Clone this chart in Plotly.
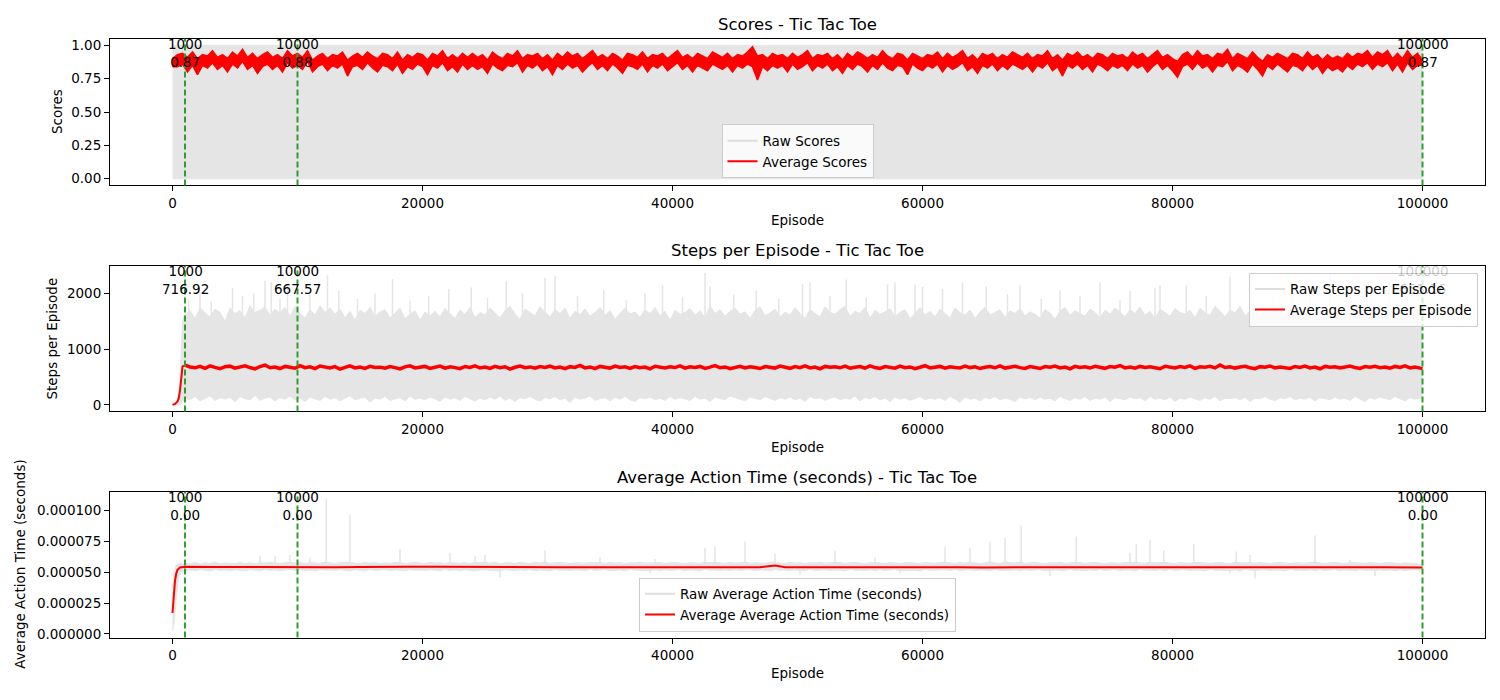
import plotly.graph_objects as go

# ---------------- data ----------------
milestone_episodes = [1000, 10000, 100000]
milestone_scores = [0.87, 0.88, 0.87]
milestone_steps = [716.92, 667.57, 651.16]
milestone_action = [0.00, 0.00, 0.00]

x_ticks = [0, 20000, 40000, 60000, 80000, 100000]

# raw scores (wins are 1, losses 0): per-5000-episode min / max
raw_score_bins = [0, 5000, 10000, 15000, 20000, 25000, 30000, 35000, 40000, 45000, 50000,
                  55000, 60000, 65000, 70000, 75000, 80000, 85000, 90000, 95000, 99999]
raw_score_max = [1, 1, 1, 1, 1, 1, 1, 1, 1, 1, 1, 1, 1, 1, 1, 1, 1, 1, 1, 1, 1]
raw_score_min = [0, 0, 0, 0, 0, 0, 0, 0, 0, 0, 0, 0, 0, 0, 0, 0, 0, 0, 0, 0, 0]

# average scores: upper / lower envelope per 400-episode bin (0 .. 100000)
avg_scores_hi = [
    0.90, 0.93, 0.94, 0.91, 0.95, 0.90, 0.93, 0.92, 0.96, 0.91,
    0.93, 0.90, 0.95, 0.92, 0.97, 0.91, 0.94, 0.90, 0.93, 0.95,
    0.91, 0.93, 0.90, 0.96, 0.92, 0.94, 0.91, 0.96, 0.89, 0.92,
    0.94, 0.90, 0.93, 0.92, 0.95, 0.89, 0.92, 0.94, 0.91, 0.95,
    0.92, 0.90, 0.94, 0.93, 0.90, 0.95, 0.89, 0.93, 0.91, 0.94,
    0.93, 0.89, 0.94, 0.92, 0.96, 0.90, 0.93, 0.90, 0.94, 0.91,
    0.94, 0.91, 0.93, 0.89, 0.95, 0.92, 0.90, 0.94, 0.92, 0.96,
    0.90, 0.93, 0.92, 0.94, 0.90, 0.93, 0.89, 0.94, 0.91, 0.95,
    0.92, 0.94, 0.90, 0.93, 0.96, 0.91, 0.93, 0.90, 0.94, 0.92,
    0.89, 0.94, 0.93, 0.91, 0.95, 0.90, 0.93, 0.92, 0.94, 0.90,
    0.93, 0.96, 0.91, 0.93, 0.90, 0.94, 0.92, 0.90, 0.95, 0.93,
    0.91, 0.94, 0.90, 0.93, 0.92, 0.95, 0.99, 0.92, 0.93, 0.90,
    0.94, 0.92, 0.93, 0.90, 0.94, 0.91, 0.93, 0.96, 0.90, 0.93,
    0.92, 0.94, 0.90, 0.93, 0.89, 0.94, 0.91, 0.95, 0.93, 0.90,
    0.93, 0.91, 0.96, 0.92, 0.90, 0.94, 0.93, 0.89, 0.94, 0.92,
    0.90, 0.93, 0.92, 0.95, 0.90, 0.94, 0.91, 0.93, 0.96, 0.90,
    0.93, 0.89, 0.94, 0.92, 0.94, 0.90, 0.93, 0.91, 0.95, 0.93,
    0.91, 0.94, 0.90, 0.93, 0.92, 0.96, 0.90, 0.93, 0.89, 0.94,
    0.92, 0.95, 0.91, 0.93, 0.90, 0.94, 0.93, 0.90, 0.94, 0.92,
    0.93, 0.90, 0.95, 0.92, 0.94, 0.90, 0.93, 0.96, 0.91, 0.93,
    0.90, 0.88, 0.93, 0.95, 0.91, 0.96, 0.92, 0.93, 0.90, 0.94,
    0.93, 0.97, 0.90, 0.94, 0.92, 0.90, 0.95, 0.91, 0.88, 0.93,
    0.91, 0.94, 0.92, 0.90, 0.94, 0.93, 0.90, 0.95, 0.91, 0.93,
    0.89, 0.93, 0.90, 0.92, 0.90, 0.94, 0.91, 0.94, 0.93, 0.96,
    0.91, 0.95, 0.93, 0.96, 0.90, 0.94, 0.90, 0.96, 0.91, 0.94,
    0.89,
]
avg_scores_lo = [
    0.84, 0.84, 0.86, 0.80, 0.85, 0.78, 0.85, 0.83, 0.87, 0.82,
    0.85, 0.80, 0.86, 0.83, 0.88, 0.82, 0.85, 0.79, 0.84, 0.86,
    0.82, 0.85, 0.80, 0.87, 0.83, 0.85, 0.82, 0.88, 0.80, 0.84,
    0.86, 0.81, 0.85, 0.83, 0.86, 0.77, 0.84, 0.85, 0.82, 0.87,
    0.83, 0.80, 0.85, 0.84, 0.81, 0.86, 0.79, 0.84, 0.82, 0.86,
    0.84, 0.78, 0.85, 0.83, 0.87, 0.81, 0.84, 0.80, 0.86, 0.82,
    0.85, 0.82, 0.84, 0.79, 0.86, 0.83, 0.81, 0.85, 0.84, 0.87,
    0.80, 0.85, 0.83, 0.86, 0.81, 0.84, 0.78, 0.85, 0.82, 0.86,
    0.83, 0.85, 0.80, 0.84, 0.87, 0.82, 0.85, 0.81, 0.86, 0.83,
    0.79, 0.85, 0.84, 0.82, 0.86, 0.80, 0.85, 0.83, 0.86, 0.81,
    0.84, 0.87, 0.82, 0.85, 0.80, 0.85, 0.83, 0.81, 0.86, 0.84,
    0.82, 0.85, 0.80, 0.85, 0.83, 0.86, 0.84, 0.74, 0.84, 0.81,
    0.85, 0.83, 0.85, 0.80, 0.86, 0.82, 0.84, 0.87, 0.81, 0.85,
    0.83, 0.86, 0.81, 0.84, 0.79, 0.85, 0.82, 0.86, 0.84, 0.80,
    0.85, 0.82, 0.87, 0.83, 0.81, 0.85, 0.84, 0.78, 0.86, 0.83,
    0.81, 0.85, 0.83, 0.86, 0.80, 0.85, 0.82, 0.84, 0.87, 0.81,
    0.84, 0.79, 0.85, 0.83, 0.86, 0.81, 0.85, 0.82, 0.86, 0.84,
    0.82, 0.85, 0.80, 0.85, 0.83, 0.87, 0.81, 0.84, 0.77, 0.85,
    0.83, 0.86, 0.82, 0.85, 0.80, 0.86, 0.84, 0.81, 0.85, 0.83,
    0.85, 0.81, 0.86, 0.83, 0.85, 0.80, 0.84, 0.87, 0.82, 0.85,
    0.81, 0.76, 0.84, 0.86, 0.82, 0.87, 0.83, 0.85, 0.80, 0.85,
    0.84, 0.88, 0.81, 0.85, 0.83, 0.80, 0.86, 0.82, 0.77, 0.85,
    0.82, 0.86, 0.83, 0.80, 0.85, 0.84, 0.81, 0.86, 0.82, 0.85,
    0.79, 0.84, 0.81, 0.83, 0.80, 0.85, 0.82, 0.86, 0.84, 0.87,
    0.82, 0.86, 0.84, 0.87, 0.81, 0.86, 0.80, 0.87, 0.82, 0.85,
    0.85,
]
avg_score_episodes = [400 * i for i in range(len(avg_scores_hi))]

# episode grid for the long series (every 400 episodes from 1000, plus the last one)
main_episodes = [1000 + 400 * i for i in range(248)] + [100000]

# steps per episode: warm-up part
steps_ramp_episodes = [0, 200, 400, 500, 600, 700, 800, 900, 1000]
avg_steps_ramp = [0, 15, 60, 120, 260, 560, 690, 700, 712]
raw_steps_ramp_episodes = [0, 200, 400, 600, 700, 800, 900]
raw_steps_ramp_max = [10, 30, 80, 400, 1000, 1450, 1600]
raw_steps_ramp_min = [0, 0, 0, 0, 20, 50, 70]

avg_steps = [
    712, 680, 665, 690, 655, 700, 672, 648, 685, 695,
    660, 678, 702, 670, 645, 688, 715, 666, 680, 652,
    690, 674, 658, 705, 668, 683, 650, 697, 676, 662,
    686, 640, 672, 699, 664, 680, 655, 692, 670, 677,
    658, 688, 669, 645, 682, 700, 663, 676, 690, 654,
    673, 695, 660, 684, 668, 650, 689, 672, 702, 661,
    679, 655, 690, 668, 684, 642, 675, 698, 666, 681,
    657, 688, 671, 694, 662, 679, 650, 686, 673, 708,
    664, 681, 652, 690, 675, 660, 697, 670, 683, 656,
    688, 668, 679, 646, 692, 674, 661, 685, 670, 699,
    659, 683, 672, 690, 655, 678, 704, 666, 681, 648,
    675, 693, 662, 684, 670, 652, 688, 676, 660, 695,
    671, 656, 686, 668, 700, 663, 679, 647, 690, 674,
    682, 665, 694, 658, 676, 688, 661, 699, 670, 654,
    687, 672, 659, 695, 668, 681, 650, 676, 703, 664,
    678, 690, 657, 684, 671, 662, 696, 669, 683, 652,
    674, 689, 666, 701, 660, 680, 693, 668, 655, 686,
    670, 652, 688, 676, 697, 663, 679, 645, 691, 672,
    684, 661, 693, 670, 656, 688, 675, 706, 664, 680,
    658, 690, 673, 685, 667, 649, 694, 677, 662, 687,
    671, 699, 656, 682, 675, 691, 663, 716, 670, 684,
    660, 678, 692, 667, 651, 686, 674, 698, 662, 680,
    673, 655, 689, 671, 695, 664, 680, 648, 690, 676,
    684, 662, 678, 697, 669, 653, 687, 675, 693, 666,
    681, 659, 690, 672, 700, 664, 678, 656,
    651,
]

# raw steps: dense body (upper / lower edge per bin) plus isolated tall spikes
raw_steps_max = [
    1620, 1700, 1540, 1750, 1650, 1580, 1720, 1660, 1500, 1740,
    1640, 1690, 1560, 1780, 1660, 1700, 1760, 1610, 1720, 1650,
    1750, 1590, 1770, 1640, 1560, 1710, 1610, 1780, 1660, 1740,
    1630, 1720, 1560, 1680, 1520, 1700, 1640, 1750, 1590, 1670,
    1710, 1560, 1650, 1740, 1540, 1630, 1690, 1520, 1670, 1600,
    1680, 1580, 1730, 1640, 1550, 1700, 1620, 1750, 1570, 1660,
    1610, 1740, 1650, 1560, 1690, 1770, 1630, 1540, 1720, 1660,
    1600, 1760, 1670, 1580, 1710, 1640, 1740, 1550, 1680, 1620,
    1720, 1590, 1660, 1750, 1610, 1690, 1540, 1650, 1740, 1630,
    1670, 1570, 1710, 1640, 1750, 1600, 1680, 1520, 1700, 1630,
    1660, 1730, 1610, 1690, 1560, 1780, 1640, 1710, 1590, 1680,
    1740, 1630, 1670, 1550, 1700, 1760, 1600, 1650, 1720, 1580,
    1670, 1610, 1750, 1640, 1550, 1710, 1650, 1580, 1760, 1660,
    1630, 1710, 1770, 1590, 1680, 1640, 1750, 1560, 1700, 1630,
    1670, 1730, 1590, 1660, 1710, 1550, 1640, 1750, 1610, 1680,
    1580, 1720, 1640, 1560, 1740, 1660, 1610, 1700, 1550, 1670,
    1750, 1620, 1660, 1710, 1570, 1690, 1640, 1730, 1600, 1670,
    1630, 1560, 1710, 1650, 1540, 1680, 1750, 1610, 1690, 1640,
    1590, 1720, 1660, 1560, 1700, 1630, 1740, 1670, 1580, 1710,
    1640, 1760, 1610, 1680, 1550, 1720, 1650, 1590, 1730, 1660,
    1630, 1700, 1560, 1740, 1660, 1610, 1770, 1690, 1580, 1710,
    1650, 1770, 1600, 1680, 1720, 1560, 1690, 1640, 1750, 1660,
    1600, 1710, 1650, 1770, 1610, 1680, 1550, 1700, 1640, 1740,
    1620, 1670, 1760, 1590, 1700, 1650, 1730, 1600, 1680, 1540,
    1650, 1720, 1600, 1670, 1560, 1700, 1620, 1480,
    1420,
]

raw_steps_min = [
    120, 90, 150, 70, 110, 160, 80, 130, 100, 140,
    60, 150, 110, 90, 170, 80, 120, 140, 70, 130,
    100, 160, 90, 120, 60, 140, 110, 80, 150, 100,
    130, 70, 120, 160, 90, 110, 140, 50, 120, 100,
    150, 80, 110, 130, 70, 160, 100, 120, 90, 140,
    110, 60, 140, 100, 130, 80, 150, 110, 70, 120,
    90, 140, 100, 160, 80, 120, 60, 130, 110, 150,
    100, 70, 130, 110, 150, 90, 120, 40, 140, 100,
    120, 160, 80, 110, 130, 70, 140, 100, 150, 90,
    60, 130, 110, 140, 90, 120, 80, 150, 100, 130,
    110, 80, 150, 100, 120, 60, 140, 110, 90, 160,
    130, 100, 70, 140, 110, 90, 150, 120, 80, 130,
    100, 140, 90, 120, 60, 150, 110, 130, 80, 120,
    140, 90, 120, 100, 160, 70, 130, 110, 150, 90,
    120, 60, 140, 100, 130, 80, 110, 150, 90, 120,
    100, 130, 80, 150, 110, 40, 140, 100, 120, 70,
    130, 110, 150, 90, 120, 100, 60, 140, 110, 130,
    90, 140, 100, 120, 70, 150, 110, 80, 130, 100,
    150, 80, 120, 100, 140, 60, 130, 110, 90, 140,
    110, 130, 70, 150, 100, 120, 90, 140, 60, 120,
    100, 140, 110, 80, 130, 100, 150, 70, 120, 110,
    130, 90, 140, 60, 120, 110, 150, 100, 80, 130,
    110, 150, 90, 120, 100, 140, 70, 130, 110, 90,
    140, 100, 120, 80, 150, 110, 60, 130, 100, 140,
    120, 90, 150, 110, 70, 130, 100, 120,
    110,
]

steps_spike_episodes = [
    1300, 2200, 3100, 4800, 5600, 6500, 7400, 7900, 8600, 9200,
    11000, 12400, 13300, 14800, 16200, 17600, 19000, 20500, 22100, 23900,
    25200, 26700, 28000, 29800, 30600, 32400, 34500, 36300, 37800, 39200,
    40800, 42600, 43000, 44900, 46700, 48500, 50400, 51000, 52600, 53900,
    55500, 57200, 57800, 59400, 60000, 61600, 63200, 65100, 66800, 67800,
    69500, 71000, 72600, 74200, 75800, 76600, 78600, 79000, 81100, 82700,
    84600, 86300, 88000, 89600, 91000, 92600, 94300, 95900, 97300, 98800,
]
steps_spike_values = [
    1900, 2020, 1850, 2100, 1950, 2000, 2230, 2200, 1900, 2150,
    1980, 2330, 2050, 1900, 2000, 2260, 1870, 1950, 2080, 2110,
    1920, 2230, 2000, 2280, 2320, 1950, 2060, 1880, 2010, 2150,
    1940, 2370, 2130, 1980, 2050, 1900, 2170, 2200, 1960, 2250,
    1920, 2160, 2200, 2160, 2120, 2080, 2200, 2130, 1980, 2150,
    1900, 2060, 1950, 2200, 1880, 2050, 2100, 2140, 2150, 1960,
    2300, 2020, 1930, 2080, 1970, 2350, 2000, 2100, 2200, 1950,
]

# average action time, in units of 1e-5 seconds
action_ramp_episodes = [0, 100, 200, 300, 400, 600, 800]
avg_action_ramp_e5 = [1.7, 3.3, 4.3, 4.9, 5.2, 5.4, 5.45]
action_avg_episodes = [1000, 3000, 5000, 7000, 9000, 11000, 13000, 15000, 17000, 19000,
                       21000, 23000, 25000, 27000, 29000, 31000, 33000, 35000, 37000, 39000,
                       41000, 43000, 45000, 47000, 48200, 49000, 51000, 53000, 55000, 57000,
                       59000, 61000, 63000, 65000, 67000, 69000, 71000, 73000, 75000, 77000,
                       79000, 81000, 83000, 85000, 87000, 89000, 91000, 93000, 95000, 97000,
                       99000, 100000]
avg_action_e5 = [5.45, 5.43, 5.42, 5.43, 5.42, 5.41, 5.42, 5.43, 5.42, 5.45,
                 5.46, 5.44, 5.43, 5.42, 5.41, 5.42, 5.41, 5.42, 5.43, 5.42,
                 5.41, 5.42, 5.44, 5.42, 5.56, 5.42, 5.41, 5.42, 5.41, 5.40,
                 5.41, 5.42, 5.41, 5.40, 5.41, 5.42, 5.41, 5.42, 5.41, 5.43,
                 5.41, 5.42, 5.41, 5.40, 5.41, 5.42, 5.41, 5.42, 5.41, 5.42,
                 5.41, 5.40]

raw_action_ramp_episodes = [0, 150, 300, 500, 700, 900]
raw_action_ramp_max_e5 = [3.8, 5.0, 5.6, 5.7, 5.75, 5.7]
raw_action_ramp_min_e5 = [0.25, 1.0, 3.0, 4.6, 5.0, 5.1]

raw_action_max_e5 = [
    5.75, 5.70, 5.80, 5.68, 5.78, 5.72, 5.82, 5.70, 5.76, 5.74,
    5.71, 5.79, 5.73, 5.77, 5.70, 5.80, 5.75, 5.81, 5.78, 5.72,
    5.78, 5.82, 5.74, 5.80, 5.71, 5.79, 5.76, 5.73, 5.83, 5.79,
    5.72, 5.77, 5.80, 5.85, 5.74, 5.70, 5.82, 5.75, 5.78, 5.71,
    5.76, 5.73, 5.79, 5.81, 5.72, 5.77, 5.80, 5.74, 5.70, 5.81,
    5.75, 5.78, 5.72, 5.80, 5.76, 5.73, 5.79, 5.71, 5.82, 5.77,
    5.81, 5.74, 5.80, 5.72, 5.76, 5.78, 5.71, 5.82, 5.75, 5.73,
    5.79, 5.76, 5.83, 5.72, 5.77, 5.80, 5.74, 5.71, 5.78, 5.75,
    5.73, 5.79, 5.76, 5.80, 5.72, 5.80, 5.74, 5.77, 5.71, 5.78,
    5.75, 5.82, 5.73, 5.76, 5.80, 5.79, 5.72, 5.77, 5.80, 5.74,
    5.71, 5.78, 5.75, 5.73, 5.84, 5.79, 5.82, 5.76, 5.72, 5.80,
    5.74, 5.77, 5.85, 5.71, 5.78, 5.75, 5.73, 5.79, 5.83, 5.76,
    5.72, 5.80, 5.74, 5.77, 5.71, 5.78, 5.75, 5.82, 5.73, 5.76,
    5.82, 5.79, 5.72, 5.77, 5.80, 5.74, 5.71, 5.78, 5.80, 5.75,
    5.73, 5.79, 5.76, 5.72, 5.77, 5.80, 5.74, 5.71, 5.78, 5.75,
    5.73, 5.79, 5.84, 5.76, 5.72, 5.80, 5.74, 5.83, 5.77, 5.71,
    5.78, 5.85, 5.75, 5.73, 5.84, 5.79, 5.76, 5.86, 5.72, 5.77,
    5.80, 5.74, 5.71, 5.78, 5.75, 5.82, 5.73, 5.76, 5.84, 5.79,
    5.72, 5.77, 5.80, 5.74, 5.71, 5.78, 5.75, 5.73, 5.79, 5.81,
    5.83, 5.76, 5.72, 5.84, 5.77, 5.80, 5.82, 5.74, 5.71, 5.78,
    5.75, 5.73, 5.83, 5.79, 5.76, 5.72, 5.77, 5.80, 5.74, 5.71,
    5.82, 5.78, 5.75, 5.80, 5.73, 5.79, 5.76, 5.72, 5.77, 5.80,
    5.74, 5.71, 5.78, 5.75, 5.73, 5.79, 5.85, 5.76, 5.72, 5.77,
    5.80, 5.74, 5.71, 5.80, 5.78, 5.75, 5.73, 5.79, 5.76, 5.72,
    5.77, 5.80, 5.74, 5.71, 5.78, 5.75, 5.73, 5.70,
    5.65,
]

raw_action_min_e5 = [
    5.15, 5.20, 5.12, 5.22, 5.18, 5.10, 5.24, 5.16, 5.20, 5.13,
    5.21, 5.17, 5.11, 5.23, 5.19, 5.14, 5.22, 5.16, 5.20, 5.12,
    5.18, 5.24, 5.13, 5.21, 5.15, 5.19, 5.11, 5.22, 5.17, 5.20,
    5.14, 5.23, 5.16, 5.10, 5.21, 5.18, 5.12, 5.24, 5.15, 5.19,
    5.22, 5.13, 5.20, 5.17, 5.11, 5.23, 5.16, 5.19, 5.14, 5.21,
    5.18, 5.12, 5.24, 5.15, 5.20, 5.13, 5.22, 5.17, 5.11, 5.19,
    5.21, 5.16, 5.14, 5.12, 5.23, 5.18, 5.12, 5.20, 5.15, 5.22,
    5.13, 5.19, 5.17, 5.11, 5.24, 5.16, 5.20, 5.14, 5.21, 5.18,
    5.12, 5.23, 5.15, 5.19, 5.22, 5.13, 5.17, 5.20, 5.11, 5.24,
    5.16, 5.18, 5.14, 5.12, 5.21, 5.12, 5.23, 5.15, 5.19, 5.22,
    5.13, 5.20, 5.17, 5.11, 5.24, 5.16, 5.18, 5.14, 5.21, 5.12,
    5.23, 5.15, 5.19, 5.22, 5.13, 5.20, 5.17, 5.11, 5.24, 5.16,
    5.18, 5.14, 5.21, 5.12, 5.12, 5.23, 5.15, 5.19, 5.22, 5.13,
    5.20, 5.17, 5.11, 5.24, 5.16, 5.18, 5.14, 5.21, 5.12, 5.23,
    5.15, 5.19, 5.22, 5.12, 5.13, 5.20, 5.17, 5.11, 5.24, 5.16,
    5.18, 5.14, 5.21, 5.12, 5.23, 5.15, 5.19, 5.22, 5.13, 5.20,
    5.17, 5.11, 5.24, 5.16, 5.18, 5.14, 5.21, 5.12, 5.23, 5.15,
    5.19, 5.22, 5.13, 5.12, 5.20, 5.17, 5.11, 5.24, 5.16, 5.18,
    5.14, 5.21, 5.12, 5.23, 5.15, 5.19, 5.22, 5.13, 5.20, 5.17,
    5.11, 5.24, 5.16, 5.18, 5.14, 5.21, 5.12, 5.23, 5.15, 5.19,
    5.22, 5.13, 5.20, 5.17, 5.11, 5.24, 5.16, 5.18, 5.14, 5.12,
    5.21, 5.12, 5.23, 5.15, 5.12, 5.19, 5.22, 5.13, 5.20, 5.17,
    5.11, 5.24, 5.16, 5.18, 5.14, 5.21, 5.12, 5.23, 5.15, 5.19,
    5.22, 5.13, 5.20, 5.17, 5.11, 5.24, 5.16, 5.18, 5.12, 5.21,
    5.14, 5.20, 5.12, 5.23, 5.15, 5.19, 5.22, 5.16,
    5.20,
]

action_spike_episodes = [
    7000, 8200, 9400, 11000, 12300, 14200, 18200, 22200, 24200, 25000,
    29800, 34200, 38600, 42600, 43400, 45800, 48200, 53000, 56200, 61800,
    63800, 65400, 66600, 67900, 72300, 76600, 77100, 78200, 79300, 81700,
    85100, 86200, 91400, 94200,
]
action_spike_values_e5 = [
    6.3, 6.3, 6.4, 6.2, 11.0, 9.7, 6.9, 6.6, 6.3, 6.4,
    6.8, 6.2, 6.1, 7.0, 7.1, 7.5, 6.5, 6.8, 6.2, 7.1,
    7.0, 7.5, 7.8, 8.8, 7.9, 6.6, 7.3, 7.6, 6.8, 7.3,
    6.7, 6.4, 8.0, 6.0,
]
action_dip_episodes = [26200, 38200, 50200, 58200, 70200, 84600, 86600, 96200]
action_dip_values_e5 = [4.6, 4.9, 4.8, 4.9, 4.7, 4.9, 4.5, 4.7]

E5 = 1e-5

# ---------------- figure ----------------
FONT = "DejaVu Sans"
GREY = "rgb(229,229,229)"
LEG_GREY = "rgb(222,222,222)"
RED = "rgb(255,0,0)"
GREEN = "rgb(44,160,44)"

fig = go.Figure()


def add_band(x, lo, hi, xa, ya, color, width=1):
    fig.add_trace(go.Scatter(x=x, y=lo, mode="lines", line=dict(color=color, width=width),
                             xaxis=xa, yaxis=ya, showlegend=False, hoverinfo="skip"))
    fig.add_trace(go.Scatter(x=x, y=hi, mode="lines", line=dict(color=color, width=width),
                             fill="tonexty", fillcolor=color,
                             xaxis=xa, yaxis=ya, showlegend=False, hoverinfo="skip"))


def add_spikes(eps, base, vals, xa, ya):
    xs, ys = [], []
    for e, v in zip(eps, vals):
        xs += [e, e, None]
        ys += [base, v, None]
    fig.add_trace(go.Scatter(x=xs, y=ys, mode="lines", line=dict(color=GREY, width=1.5),
                             xaxis=xa, yaxis=ya, showlegend=False, hoverinfo="skip"))


def add_legend_entry(name, color, xa, ya, legend):
    fig.add_trace(go.Scatter(x=[None], y=[None], mode="lines", line=dict(color=color, width=2),
                             name=name, legend=legend, xaxis=xa, yaxis=ya))


# subplot 1: scores
add_band(raw_score_bins, raw_score_min, raw_score_max, "x", "y", GREY)
add_band(avg_score_episodes, avg_scores_lo, avg_scores_hi, "x", "y", RED, 1.5)
add_legend_entry("Raw Scores", LEG_GREY, "x", "y", "legend")
add_legend_entry("Average Scores", RED, "x", "y", "legend")

# subplot 2: steps
add_band(raw_steps_ramp_episodes + main_episodes, raw_steps_ramp_min + raw_steps_min,
         raw_steps_ramp_max + raw_steps_max, "x2", "y2", GREY)
add_spikes(steps_spike_episodes, 1200, steps_spike_values, "x2", "y2")
fig.add_trace(go.Scatter(x=steps_ramp_episodes, y=avg_steps_ramp, mode="lines",
                         line=dict(color=RED, width=2), xaxis="x2", yaxis="y2",
                         showlegend=False, hoverinfo="skip"))
fig.add_trace(go.Scatter(x=main_episodes, y=avg_steps, mode="lines",
                         line=dict(color=RED, width=3.5), xaxis="x2", yaxis="y2",
                         showlegend=False, hoverinfo="skip"))
add_legend_entry("Raw Steps per Episode", LEG_GREY, "x2", "y2", "legend2")
add_legend_entry("Average Steps per Episode", RED, "x2", "y2", "legend2")

# subplot 3: action time
add_band(raw_action_ramp_episodes + main_episodes,
         [v * E5 for v in raw_action_ramp_min_e5 + raw_action_min_e5],
         [v * E5 for v in raw_action_ramp_max_e5 + raw_action_max_e5],
         "x3", "y3", GREY)
add_spikes(action_spike_episodes, 5.6 * E5, [v * E5 for v in action_spike_values_e5], "x3", "y3")
add_spikes(action_dip_episodes, 5.3 * E5, [v * E5 for v in action_dip_values_e5], "x3", "y3")
fig.add_trace(go.Scatter(x=action_ramp_episodes + action_avg_episodes,
                         y=[v * E5 for v in avg_action_ramp_e5 + avg_action_e5], mode="lines",
                         line=dict(color=RED, width=2), xaxis="x3", yaxis="y3",
                         showlegend=False, hoverinfo="skip"))
add_legend_entry("Raw Average Action Time (seconds)", LEG_GREY, "x3", "y3", "legend3")
add_legend_entry("Average Average Action Time (seconds)", RED, "x3", "y3", "legend3")

# ---------------- layout ----------------
W, H = 1500, 700
XDOM = [110 / W, 1485 / W]
panels = [  # (top px, bottom px)
    (37, 185),
    (266, 413),
    (494, 641),
]
titles = ["Scores - Tic Tac Toe", "Steps per Episode - Tic Tac Toe",
          "Average Action Time (seconds) - Tic Tac Toe"]
ylabels = ["Scores", "Steps per Episode", "Average Action Time (seconds)"]
ylabel_x = [57, 52, 20]
title_y = [23, 251, 480]
xlabel_y = [220, 449, 677]
yranges = [[-0.05, 1.05], [-119, 2499], [-0.29e-5, 11.54e-5]]
ytickvals = [[0, 0.25, 0.5, 0.75, 1.0], [0, 1000, 2000],
             [0, 2.5e-5, 5e-5, 7.5e-5, 10e-5]]
ytickfmt = [".2f", "d", ".6f"]
milestone_vals = [milestone_scores, milestone_steps, milestone_action]

tickfont = dict(family=FONT, size=13.5, color="black")
axis_common = dict(showline=True, linecolor="black", linewidth=1, mirror=True,
                   ticks="outside", ticklen=5, tickwidth=1, tickcolor="black",
                   showgrid=False, zeroline=False, tickfont=tickfont)

layout = dict(
    width=W, height=H, margin=dict(l=0, r=0, t=0, b=0),
    paper_bgcolor="white", plot_bgcolor="white",
    font=dict(family=FONT, color="black"),
    hovermode=False,
)
annotations = []
shapes = []
for i, (top, bot) in enumerate(panels):
    sfx = "" if i == 0 else str(i + 1)
    ydom = [1 - bot / H, 1 - top / H]
    layout["xaxis" + sfx] = dict(domain=XDOM, anchor="y" + sfx, range=[-5000, 104999],
                                 tickvals=x_ticks, tickformat="d", **axis_common)
    layout["yaxis" + sfx] = dict(domain=ydom, anchor="x" + sfx, range=yranges[i],
                                 tickvals=ytickvals[i], tickformat=ytickfmt[i], **axis_common)
    annotations.append(dict(text=titles[i], xref="paper", yref="paper",
                            x=(XDOM[0] + XDOM[1]) / 2, y=1 - title_y[i] / H,
                            xanchor="center", yanchor="middle", showarrow=False,
                            font=dict(family=FONT, size=16.5, color="black")))
    annotations.append(dict(text="Episode", xref="paper", yref="paper",
                            x=(XDOM[0] + XDOM[1]) / 2, y=1 - xlabel_y[i] / H,
                            xanchor="center", yanchor="middle", showarrow=False,
                            font=dict(family=FONT, size=13.5, color="black")))
    annotations.append(dict(text=ylabels[i], xref="paper", yref="paper",
                            x=ylabel_x[i] / W, y=1 - (top + bot) / 2 / H, textangle=-90,
                            xanchor="center", yanchor="middle", showarrow=False,
                            font=dict(family=FONT, size=13.5, color="black")))
    for ep, val in zip(milestone_episodes, milestone_vals[i]):
        shapes.append(dict(type="line", xref="x" + sfx, yref="y" + sfx + " domain",
                           x0=ep, x1=ep, y0=0, y1=1,
                           line=dict(color=GREEN, width=2, dash="6px,3px"), layer="above"))
        # the last steps label sits behind the (semi-opaque) legend in the original
        behind_legend = (i == 1 and ep == milestone_episodes[-1])
        color = "rgba(0,0,0,0.22)" if behind_legend else "black"
        annotations.append(dict(text=f"{ep}<br>{val:.2f}", xref="x" + sfx,
                                yref="y" + sfx + " domain", x=ep, y=1.0, yshift=5,
                                xanchor="center", yanchor="top", showarrow=False,
                                font=dict(family=FONT, size=13.5, color=color)))

layout["annotations"] = annotations
layout["shapes"] = shapes

leg_common = dict(bgcolor="rgba(255,255,255,0.8)", bordercolor="rgb(204,204,204)",
                  borderwidth=1, font=dict(family=FONT, size=13.5, color="black"),
                  itemwidth=30, tracegroupgap=0, traceorder="normal")
layout["legend"] = dict(x=797.5 / W, y=1 - 178 / H, xanchor="center", yanchor="bottom",
                        xref="paper", yref="paper", **leg_common)
layout["legend2"] = dict(x=1478 / W, y=1 - 273 / H, xanchor="right", yanchor="top",
                         xref="paper", yref="paper", **leg_common)
layout["legend3"] = dict(x=797.5 / W, y=1 - 635 / H, xanchor="center", yanchor="bottom",
                         xref="paper", yref="paper", **leg_common)

fig.update_layout(**layout)
fig.write_html("out.html", config={"displayModeBar": False},
               post_script="document.body.style.margin='0px';")
